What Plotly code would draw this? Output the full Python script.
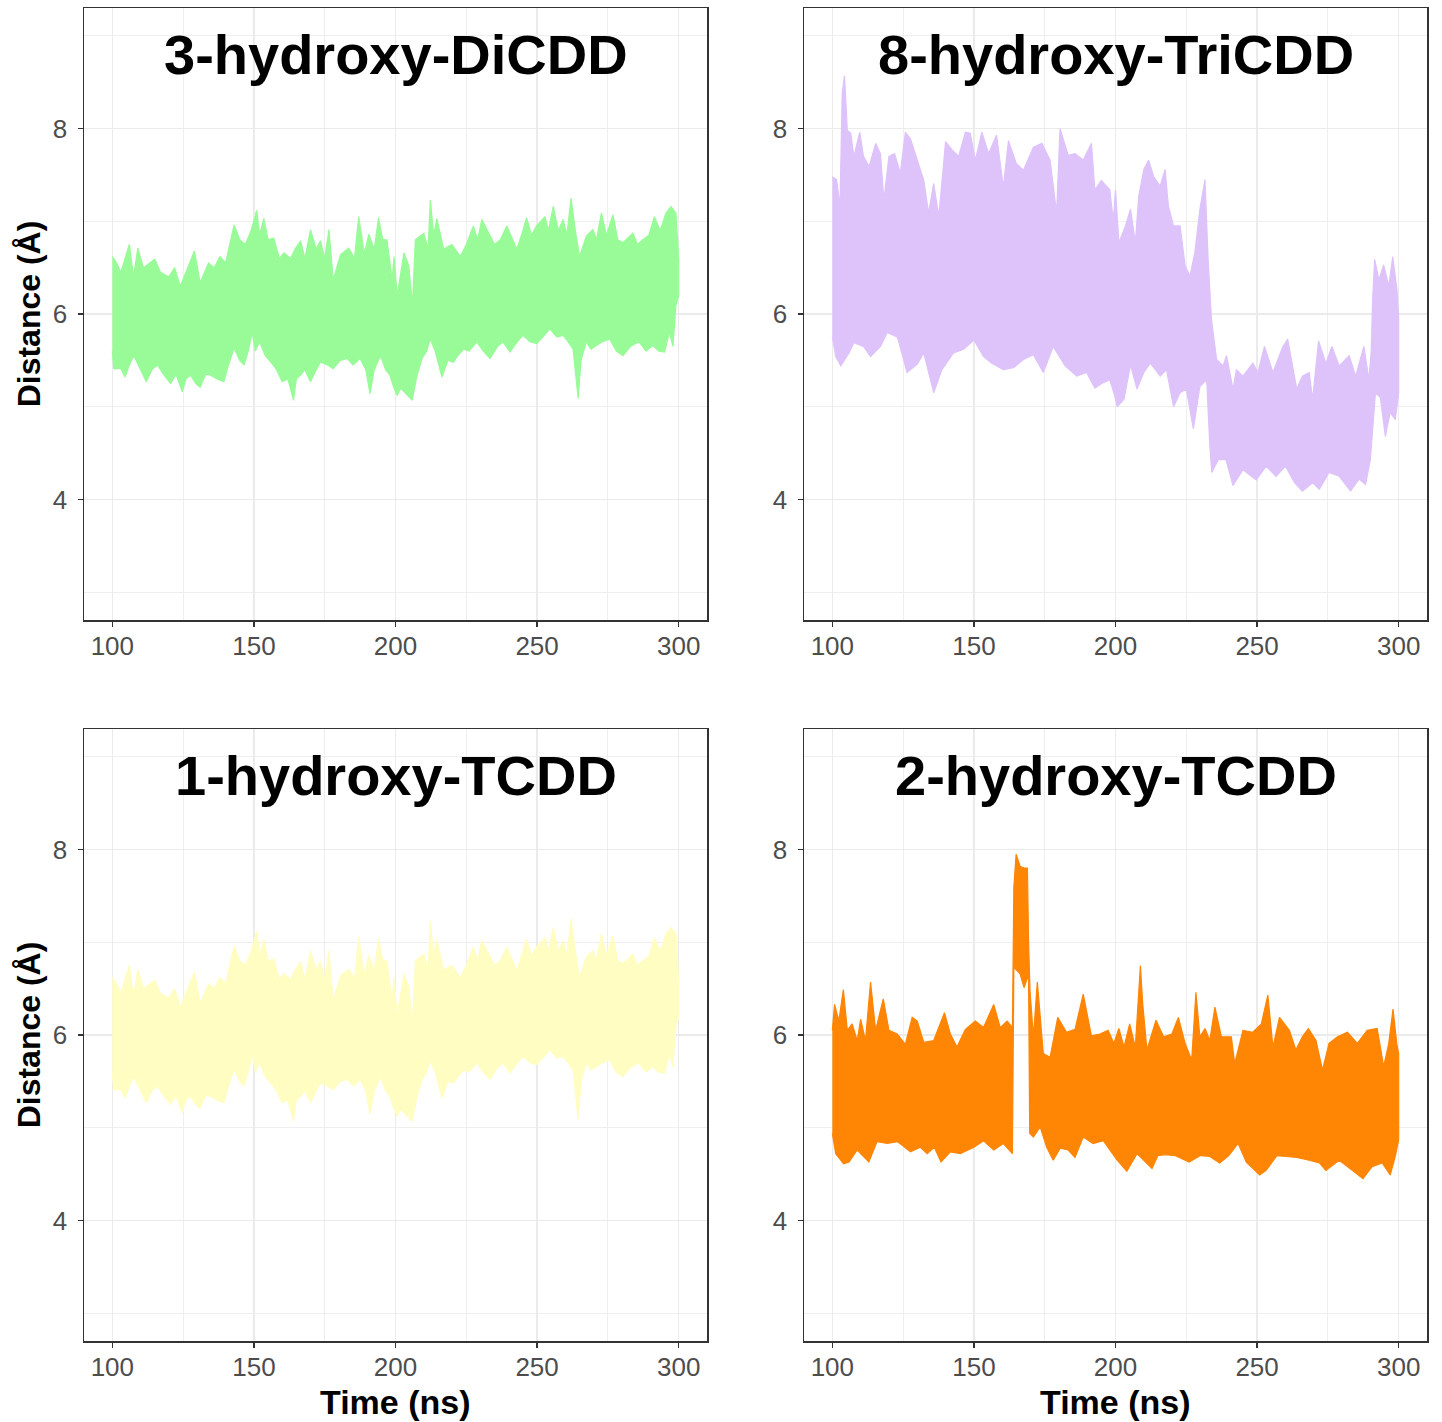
import plotly.graph_objects as go

# ---------------- data ----------------
# 3-hydroxy-DiCDD (also shown for 1-hydroxy-TCDD)
dicdd_up_t = [100, 101.5, 103, 106, 107.5, 109, 111, 113, 115, 117, 120, 122, 124, 126, 129, 131, 134, 136, 138, 140,
              143, 145, 147, 149, 151, 152, 153.5, 155, 157, 159, 160.6, 163, 164.5, 166.5, 168, 170, 172, 173.5, 175,
              176.5, 178, 180.6, 183.5, 185.5, 187, 189, 190.6, 192.5, 194, 195.5, 197, 198.8, 199.5, 200.6, 203,
              204.7, 206, 207, 210, 211.5, 212.3, 213.5, 214.6, 217, 219.9, 222.9, 225, 227.5, 229, 230.5, 233.4, 235,
              237, 239.3, 242.8, 244.5, 246.3, 248, 249.8, 252.8, 254, 255.7, 257.5, 259.2, 260.5, 262, 263.5, 265,
              267.4, 269.7, 271, 272.7, 274.5, 276.8, 278.5, 280.3, 283.8, 285.5, 287.3, 289.5, 291.4, 293.5, 295.5,
              297.3, 299, 300]
dicdd_up_v = [6.62, 6.55, 6.45, 6.75, 6.4, 6.71, 6.5, 6.55, 6.59, 6.45, 6.4, 6.5, 6.3, 6.45, 6.68, 6.34, 6.55, 6.5, 6.62,
              6.55, 6.96, 6.8, 6.75, 6.9, 7.12, 6.85, 7.03, 6.8, 6.82, 6.6, 6.66, 6.6, 6.7, 6.79, 6.6, 6.91, 6.7, 6.79,
              6.6, 6.91, 6.37, 6.64, 6.71, 6.6, 7.05, 6.65, 6.86, 6.7, 7.04, 6.8, 6.8, 6.37, 6.62, 6.2, 6.66, 6.52, 6.1,
              6.8, 6.87, 6.7, 7.23, 6.85, 7.03, 6.7, 6.75, 6.62, 6.75, 6.95, 6.8, 7.02, 6.84, 6.75, 6.8, 6.95, 6.7, 6.85,
              7.04, 6.85, 6.95, 7.05, 6.9, 7.16, 6.9, 7.02, 6.85, 7.25, 6.9, 6.62, 6.84, 6.91, 6.8, 7.09, 6.85, 7.07,
              6.8, 6.77, 6.87, 6.75, 6.8, 6.85, 7.05, 6.9, 7.09, 7.16, 7.09, 6.6]
dicdd_lo_t = [100, 100.5, 103, 104.5, 106, 107.6, 110, 112, 114, 116, 118, 120.6, 122.5, 124.7, 126, 127.6, 129.5, 131,
              133, 134.7, 137, 139.4, 141, 143, 145, 146.5, 148, 149.4, 150.5, 152, 154, 156, 158, 160, 162, 164, 165,
              166.5, 168, 170, 172, 173.5, 176, 178, 180.5, 183, 185, 187.5, 189.5, 191, 192.5, 194.7, 196.5, 198,
              199.5, 200.6, 201.8, 203.5, 205.9, 207.6, 209.4, 211, 212.3, 214, 216.4, 218.5, 220.5, 222, 224, 226,
              228.7, 231, 233.4, 236, 238, 240.4, 243, 245, 247.5, 249.8, 252, 254.5, 257, 259.2, 261, 262.7, 264.5,
              265.5, 267.4, 269, 271, 273, 275.6, 278, 280.3, 283, 286, 288.5, 290.8, 293, 295, 296.7, 298, 299, 300]
dicdd_lo_v = [5.6, 5.41, 5.41, 5.32, 5.45, 5.55, 5.4, 5.27, 5.4, 5.45, 5.35, 5.25, 5.35, 5.16, 5.3, 5.34, 5.25, 5.21,
              5.35, 5.34, 5.3, 5.27, 5.45, 5.63, 5.5, 5.45, 5.6, 5.8, 5.6, 5.7, 5.55, 5.48, 5.4, 5.27, 5.3, 5.07, 5.3,
              5.34, 5.4, 5.27, 5.4, 5.48, 5.45, 5.41, 5.5, 5.52, 5.45, 5.52, 5.4, 5.14, 5.4, 5.55, 5.4, 5.34, 5.2, 5.12,
              5.2, 5.15, 5.07, 5.34, 5.52, 5.6, 5.73, 5.6, 5.32, 5.5, 5.48, 5.55, 5.62, 5.6, 5.7, 5.6, 5.52, 5.65, 5.7,
              5.59, 5.7, 5.77, 5.7, 5.68, 5.75, 5.84, 5.75, 5.77, 5.7, 5.62, 5.09, 5.5, 5.7, 5.62, 5.66, 5.7, 5.73, 5.6,
              5.55, 5.65, 5.7, 5.6, 5.66, 5.6, 5.59, 5.8, 5.65, 6.09, 6.2]

# 8-hydroxy-TriCDD
tricdd_up_t = [100, 101.5, 102.7, 103.5, 104.3, 105.3, 106.5, 107.6, 109.7, 111, 113, 115.3, 117, 118.2, 120, 122, 124,
               125.8, 127.6, 130, 132.3, 134, 135.8, 137.6, 140, 142.3, 144.6, 147, 148.7, 150.5, 152.8, 155.2, 158,
               160.4, 162.2, 165, 167.5, 171, 174, 176.9, 179.2, 180.4, 183.3, 185.7, 188.6, 191.5, 192.7, 195, 198,
               199.2, 200, 201.2, 203.5, 205.3, 207, 208.2, 210, 211.7, 213.5, 215.8, 217.5, 218.7, 220.5, 222.8, 224.6,
               226.3, 228, 229.8, 231.6, 232.7, 233.9, 235.7, 238, 239.2, 241.5, 242.7, 245, 248.5, 250.3, 252.6, 255.6,
               259, 260.8, 264, 266, 268.4, 269.6, 271.7, 274.3, 276.4, 279, 282.5, 284.8, 287.7, 289.5, 290.3, 290.8,
               291.5, 293, 294.7, 296.5, 297.9, 299.4, 300]
tricdd_up_v = [7.48, 7.45, 7.16, 8.38, 8.57, 7.98, 7.95, 7.7, 7.96, 7.7, 7.59, 7.84, 7.73, 7.23, 7.7, 7.73, 7.52, 7.96,
               7.89, 7.66, 7.44, 7.09, 7.41, 7.05, 7.86, 7.77, 7.7, 7.96, 7.95, 7.66, 7.96, 7.73, 7.93, 7.37, 7.87, 7.62,
               7.55, 7.8, 7.84, 7.66, 7.09, 8.0, 7.71, 7.73, 7.66, 7.84, 7.34, 7.44, 7.34, 7.0, 7.34, 6.77, 6.95, 7.13,
               6.77, 7.27, 7.56, 7.66, 7.48, 7.38, 7.56, 7.16, 6.95, 6.95, 6.52, 6.41, 6.66, 7.13, 7.45, 6.59, 5.94, 5.51,
               5.44, 5.55, 5.19, 5.4, 5.33, 5.47, 5.37, 5.65, 5.37, 5.64, 5.73, 5.19, 5.33, 5.37, 5.08, 5.71, 5.47, 5.65,
               5.44, 5.55, 5.33, 5.65, 5.29, 5.6, 6.16, 6.59, 6.37, 6.53, 6.3, 6.62, 6.26, 5.95]
tricdd_lo_t = [100, 101.2, 103, 105.9, 107.6, 111, 113.5, 117, 119.4, 123, 126.4, 130, 132.3, 135.8, 138.7, 142.8,
               146.4, 150, 153.4, 156.3, 160.4, 164, 167.5, 171, 174.5, 178, 182.2, 186.3, 189.8, 192.7, 195.7, 198,
               199.8, 200.6, 203, 205.3, 207.6, 210, 212.3, 215.8, 218, 220.5, 222.8, 225, 227.5, 229.8, 232.2, 233.3,
               234, 236.3, 239, 241.5, 245, 249.7, 253.2, 256.7, 260, 263.2, 266, 269.6, 272, 275.4, 279, 283, 286,
               288.3, 290, 291.8, 293.5, 295.3, 297, 298.8, 300]
tricdd_lo_v = [5.76, 5.54, 5.44, 5.58, 5.69, 5.65, 5.54, 5.65, 5.8, 5.75, 5.37, 5.46, 5.58, 5.15, 5.4, 5.58, 5.62, 5.72,
               5.54, 5.47, 5.4, 5.42, 5.51, 5.56, 5.37, 5.65, 5.44, 5.33, 5.37, 5.2, 5.26, 5.29, 5.11, 5.0, 5.08, 5.45,
               5.19, 5.37, 5.47, 5.33, 5.4, 5.0, 5.15, 5.19, 4.76, 5.22, 5.29, 4.58, 4.29, 4.43, 4.43, 4.15, 4.32, 4.21,
               4.36, 4.25, 4.36, 4.18, 4.09, 4.18, 4.11, 4.29, 4.25, 4.09, 4.22, 4.16, 4.43, 5.15, 5.1, 4.68, 4.94, 4.86,
               5.15]

# 1-hydroxy-TCDD (the trace in the picture matches the DiCDD panel)
tcdd1_up_t, tcdd1_up_v = dicdd_up_t, dicdd_up_v
tcdd1_lo_t, tcdd1_lo_v = dicdd_lo_t, dicdd_lo_v

# 2-hydroxy-TCDD
tcdd2_up_t = [100, 100.8, 102.3, 103.9, 105.3, 107, 108.8, 110, 111.7, 113.5, 115.3, 118, 120, 122.9, 125.8, 128.2, 130,
              132.3, 135.8, 139.6, 141.7, 144, 147, 150.5, 153.4, 157, 159.3, 161.7, 163.6, 164.1, 164.9, 166.3, 167.7,
              168.9, 169.3, 169.8, 171, 172.4, 174.5, 176.9, 179.6, 182.7, 185.7, 188.6, 191.5, 194.5, 197.4, 199.4,
              201.2, 203, 205, 207, 208.8, 209.6, 211.1, 214.3, 217, 219.9, 222.2, 224.6, 226.9, 228.4, 229.8, 231.6,
              233.3, 235.1, 237.4, 240.9, 242.1, 245, 248.5, 251.5, 253.8, 255.6, 257.9, 261.4, 263.7, 266, 268.1,
              270.8, 273.1, 275.4, 278.4, 281.9, 285.4, 288.9, 292.4, 294.7, 296.5, 298, 299.4, 300]
tcdd2_up_v = [6.05, 6.33, 6.15, 6.49, 6.05, 6.12, 5.94, 6.17, 5.94, 6.57, 6.05, 6.39, 6.05, 6.01, 5.9, 6.19, 6.15, 5.92,
              5.94, 6.24, 6.01, 5.87, 6.06, 6.15, 6.08, 6.33, 6.08, 6.15, 6.08, 7.59, 7.95, 7.82, 7.8, 7.8, 7.01, 6.48,
              5.98, 6.57, 5.8, 5.76, 6.19, 6.03, 6.06, 6.44, 5.99, 6.01, 6.05, 5.91, 6.07, 5.87, 6.12, 5.87, 6.75, 6.34,
              5.84, 6.16, 5.98, 6.01, 6.19, 5.91, 5.73, 6.46, 5.98, 6.07, 5.94, 6.3, 5.98, 5.98, 5.69, 6.05, 6.03, 6.12,
              6.43, 5.87, 6.19, 6.05, 5.84, 5.98, 6.07, 5.94, 5.62, 5.91, 5.98, 6.03, 5.91, 6.05, 6.07, 5.66, 5.91, 6.28,
              5.89, 5.8]
tcdd2_lo_t = [100, 101.2, 104, 105.9, 108.8, 112.9, 115.8, 119.4, 123, 127.6, 131.1, 133.5, 136, 138.4, 141.7, 145.2,
              150, 153.4, 157, 160.4, 163.6, 164.1, 166.3, 167.7, 168.9, 169.3, 169.7, 171, 173.4, 175.7, 178, 180.5,
              183.3, 185.7, 188.6, 192.1, 195.7, 198, 200.6, 204, 207.6, 212.9, 215, 217.5, 221, 226, 230, 233.3,
              236.8, 240, 243.3, 246.2, 250.9, 253.2, 257, 260.2, 264, 268.4, 272, 274.3, 279, 283.6, 287.4, 290.6,
              294.2, 297, 298.8, 300]
tcdd2_lo_v = [4.94, 4.72, 4.61, 4.63, 4.76, 4.63, 4.85, 4.83, 4.85, 4.74, 4.79, 4.72, 4.79, 4.63, 4.74, 4.72, 4.79, 4.86,
              4.76, 4.83, 4.72, 6.73, 6.66, 6.51, 6.62, 6.6, 4.94, 4.9, 5.01, 4.79, 4.65, 4.78, 4.76, 4.68, 4.9, 4.83,
              4.86, 4.76, 4.65, 4.53, 4.72, 4.56, 4.7, 4.71, 4.7, 4.63, 4.7, 4.69, 4.62, 4.7, 4.83, 4.63, 4.49, 4.54,
              4.7, 4.69, 4.68, 4.65, 4.62, 4.54, 4.65, 4.54, 4.45, 4.58, 4.62, 4.49, 4.69, 4.87]

titles = ["3-hydroxy-DiCDD", "8-hydroxy-TriCDD", "1-hydroxy-TCDD", "2-hydroxy-TCDD"]
colors = ["#98FB98", "#DEC3FB", "#FFFDC2", "#FF8505"]
x_ticks = [100, 150, 200, 250, 300]
x_minor = [125, 175, 225, 275]
y_ticks = [4, 6, 8]
y_minor = [3, 5, 7, 9]
x_title = "Time (ns)"
y_title = "Distance (Å)"

series = [
    (dicdd_up_t, dicdd_up_v, dicdd_lo_t, dicdd_lo_v),
    (tricdd_up_t, tricdd_up_v, tricdd_lo_t, tricdd_lo_v),
    (tcdd1_up_t, tcdd1_up_v, tcdd1_lo_t, tcdd1_lo_v),
    (tcdd2_up_t, tcdd2_up_v, tcdd2_lo_t, tcdd2_lo_v),
]

# ---------------- layout geometry (page pixels; body margin removed by post_script) ----------------
W, H = 1442, 1422
px_x = [(84, 707), (804, 1427), (84, 707), (804, 1427)]
px_y = [(8, 620), (8, 620), (729, 1341), (729, 1341)]
XTITLE_Y = 1402  # page pixel of the x-axis title centre

fig = go.Figure()
FONT = "Liberation Sans, Arial, sans-serif"

for i, ((ut, uv, lt, lv), title, col) in enumerate(zip(series, titles, colors)):
    n = "" if i == 0 else str(i + 1)
    xa, ya = "x" + n, "y" + n
    xs = list(ut) + list(lt)[::-1]
    ys = list(uv) + list(lv)[::-1]
    fig.add_trace(go.Scatter(x=xs, y=ys, mode="lines", fill="toself", fillcolor=col,
                             line=dict(color=col, width=1.2), xaxis=xa, yaxis=ya,
                             showlegend=False, hoverinfo="skip"))
    x0, x1 = [v / W for v in px_x[i]]
    y0, y1 = [v / H for v in px_y[i]]
    bottom = i >= 2
    left = i % 2 == 0
    axis_common = dict(showline=True, mirror=True, linecolor="#333333", linewidth=1.5,
                       ticks="outside", ticklen=5, tickwidth=1.5, tickcolor="#333333",
                       gridcolor="#EBEBEB", gridwidth=1.6, zeroline=False,
                       tickfont=dict(family=FONT, size=26, color="#4D4D4D"))
    fig.layout["xaxis" + n] = dict(axis_common, domain=[x0, x1], range=[90, 310],
                                   tickvals=x_ticks, anchor=ya, ticklabelstandoff=-3,
                                   minor=dict(tickvals=x_minor, showgrid=True, gridcolor="#EBEBEB",
                                              gridwidth=0.8, ticks=""))
    fig.layout["yaxis" + n] = dict(axis_common, domain=[1 - y1, 1 - y0], range=[2.7, 9.3],
                                   tickvals=y_ticks, anchor=xa, ticklabelstandoff=5,
                                   minor=dict(tickvals=y_minor, showgrid=True, gridcolor="#EBEBEB",
                                              gridwidth=0.8, ticks=""),
                                   title=dict(text=y_title if left else "",
                                              font=dict(family=FONT, size=32, color="black",
                                                        weight="bold"), standoff=2))
    if bottom:
        fig.add_annotation(text="<b>" + x_title + "</b>", x=(x0 + x1) / 2,
                           y=1 - XTITLE_Y / H, xref="paper", yref="paper",
                           showarrow=False, xanchor="center", yanchor="middle",
                           font=dict(family=FONT, size=34, color="black"))
    fig.add_annotation(text="<b>" + title + "</b>", x=200, y=8.8, xref=xa, yref=ya,
                       showarrow=False, xanchor="center", yanchor="middle",
                       font=dict(family=FONT, size=56, color="black"))

fig.update_layout(width=W, height=H, margin=dict(l=0, r=0, t=0, b=0),
                  plot_bgcolor="white", paper_bgcolor="white", hovermode=False)
fig.write_html("out.html", config={"displayModeBar": False, "staticPlot": True},
               post_script="document.body.style.margin='0';document.body.style.overflow='hidden';")
